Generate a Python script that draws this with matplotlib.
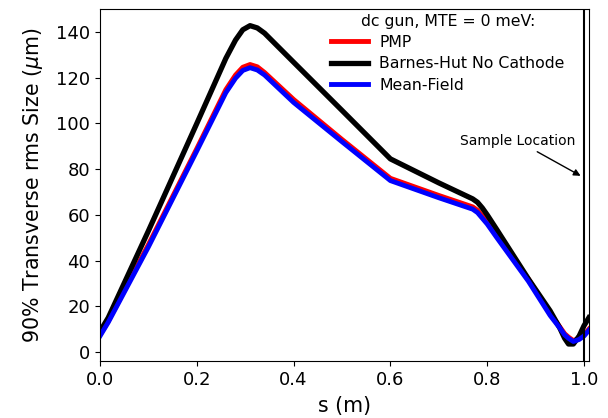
import matplotlib
matplotlib.use("Agg")
import matplotlib.pyplot as plt

# positions along the beamline (m)
s = [0.0, 0.017, 0.1, 0.2, 0.26, 0.28, 0.295, 0.31, 0.325, 0.34,
     0.4, 0.5, 0.6, 0.7, 0.77, 0.78, 0.79, 0.8, 0.82, 0.885, 0.93, 0.95,
     0.96, 0.968, 0.978, 0.99, 1.0, 1.01]

# 90% transverse rms size (um)
pmp = [7.5, 13.5, 47, 89, 114.8, 121.2, 124.6, 125.8, 124.8, 122.3,
       110.5, 93, 76, 68.5, 63.5, 62, 59.5, 57, 51, 32, 17, 11,
       8, 6.5, 5, 6, 7.5, 10]
barnes_hut = [9, 15, 53, 100, 128.5, 136.5, 141, 142.8, 141.8, 139.5,
              126.8, 105.7, 84.5, 74, 67, 65.5, 63, 60, 53.5, 32, 18, 10.5,
              6, 3.5, 3.5, 7, 11.5, 15]
mean_field = [7, 13, 46, 88, 113.5, 119.8, 123.2, 124.4, 123.4, 121.2,
              109.2, 92, 75, 67.5, 62.5, 61, 58.5, 56, 50, 31, 16, 10.5,
              7.5, 6, 4.6, 5.5, 7, 9.5]

sample_s = 1.0

fig = plt.figure(figsize=(6.08, 4.18), dpi=100)
ax = fig.add_axes([0.1645, 0.136, 0.804, 0.842])

ax.plot(s, pmp, color="red", lw=3.5, label="PMP", solid_joinstyle="round")
ax.plot(s, barnes_hut, color="black", lw=3.8, label="Barnes-Hut No Cathode",
        solid_joinstyle="round")
ax.plot(s, mean_field, color="blue", lw=3.5, label="Mean-Field",
        solid_joinstyle="round")

ax.axvline(sample_s, color="black", lw=1.5)
ax.annotate("Sample Location", xy=(0.998, 76.5), xytext=(0.862, 92.5),
            ha="center", va="center", fontsize=10,
            arrowprops=dict(arrowstyle="-|>", color="black", lw=1))

ax.set_xlim(0, 1.01)
ax.set_ylim(-4, 150)
ax.set_xticks([0.0, 0.2, 0.4, 0.6, 0.8, 1.0])
ax.set_yticks([0, 20, 40, 60, 80, 100, 120, 140])
ax.tick_params(labelsize=13)
ax.set_xlabel("s (m)", fontsize=14.8, labelpad=5)
ax.set_ylabel(r"90% Transverse rms Size ($\mu$m)", fontsize=14.8, labelpad=8)

leg = ax.legend(loc="upper right", bbox_to_anchor=(0.963, 1.005),
                borderaxespad=0, title="dc gun, MTE = 0 meV:", frameon=False,
                fontsize=11.3, title_fontsize=11.3, handlelength=2.36,
                handletextpad=0.7, labelspacing=0.4)

fig.savefig("out.png", dpi=100)
